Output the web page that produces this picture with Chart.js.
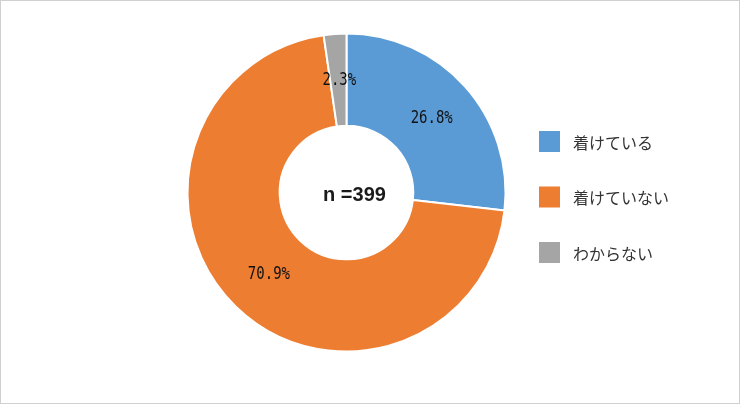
<!DOCTYPE html>
<html>
<head>
<meta charset="utf-8">
<script src="https://cdn.jsdelivr.net/npm/chart.js@4/dist/chart.umd.min.js"></script>
<style>
  html, body { margin: 0; padding: 0; background: #ffffff; }
  canvas { display: block; }
</style>
</head>
<body>
<canvas id="c" width="740" height="405"></canvas>
<script>
const categories = ['着けている', '着けていない', 'わからない'];
const percentages = [26.8, 70.9, 2.3];
const sampleLabel = 'n =399';
const sliceColors = ['#5B9BD5', '#ED7D31', '#A5A5A5'];

const framePlugin = {
  id: 'frame',
  beforeDraw(chart) {
    const ctx = chart.ctx;
    ctx.save();
    ctx.fillStyle = '#ffffff';
    ctx.fillRect(0, 0, chart.width, chart.height);
    ctx.strokeStyle = '#d0d0d0';
    ctx.lineWidth = 1;
    ctx.strokeRect(0.5, 0.5, chart.width - 1, chart.height - 2);
    ctx.restore();
  }
};

const labelsPlugin = {
  id: 'sliceLabels',
  afterDatasetsDraw(chart) {
    const ctx = chart.ctx;
    const meta = chart.getDatasetMeta(0);
    ctx.save();
    ctx.font = '14px "DejaVu Sans Mono", "Liberation Mono", monospace';
    ctx.fillStyle = '#111111';
    ctx.textAlign = 'center';
    ctx.textBaseline = 'middle';
    meta.data.forEach((arc, i) => {
      const p = arc.getCenterPoint();
      ctx.save();
      ctx.translate(p.x + 1, p.y + 1);
      ctx.scale(1, 1.22);
      ctx.fillText(percentages[i].toFixed(1) + '%', 0, 0);
      ctx.restore();
    });
    // centre text
    const a = meta.data[0];
    ctx.font = 'bold 20px "Liberation Sans", Arial, sans-serif';
    ctx.fillStyle = '#1a1a1a';
    ctx.fillText(sampleLabel, a.x + 8, a.y + 3);
    ctx.restore();
  }
};

const legendPlugin = {
  id: 'sideLegend',
  afterDraw(chart) {
    const ctx = chart.ctx;
    const x0 = 539, y0 = 131, box = 21, step = 55.5;
    ctx.save();
    ctx.font = '16px "Noto Sans CJK JP", sans-serif';
    ctx.textAlign = 'left';
    ctx.textBaseline = 'middle';
    chart.data.labels.forEach((lab, i) => {
      const y = y0 + i * step;
      ctx.fillStyle = chart.data.datasets[0].backgroundColor[i];
      ctx.fillRect(x0, y, box, box);
      ctx.fillStyle = '#333333';
      ctx.fillText(lab, x0 + 34, y + box / 2 + 1);
    });
    ctx.restore();
  }
};

new Chart(document.getElementById('c'), {
  type: 'doughnut',
  data: {
    labels: categories,
    datasets: [{
      data: percentages,
      backgroundColor: sliceColors,
      borderColor: '#ffffff',
      borderWidth: 2
    }]
  },
  options: {
    responsive: false,
    animation: false,
    devicePixelRatio: 1,
    cutout: '42%',
    layout: { padding: { left: 186.5, right: 233.5, top: 32.5, bottom: 52.5 } },
    plugins: {
      legend: { display: false },
      tooltip: { enabled: false }
    }
  },
  plugins: [framePlugin, labelsPlugin, legendPlugin]
});
</script>
</body>
</html>
